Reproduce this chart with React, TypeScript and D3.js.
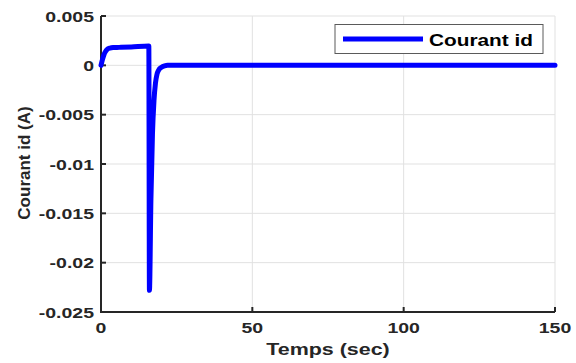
import React, { useRef, useEffect } from 'react';
import * as d3 from 'd3';

// Courant id vs temps.
const timeSec = [0, 0.5, 1, 1.5, 2, 3, 4, 6, 10, 15.8, 16.0, 16.5, 17, 17.5, 18, 18.5, 19, 20, 21, 22, 150];
const courantId = [
  0, 0.0006, 0.0011, 0.0014, 0.0016, 0.00175, 0.0018, 0.00182, 0.00187, 0.00197,
  -0.0228, -0.0135, -0.007, -0.0036, -0.0018, -0.0009, -0.0005, -0.0002, -0.00006, 0, 0,
];
const xTicks = [0, 50, 100, 150];
const yTicks = [0.005, 0, -0.005, -0.01, -0.015, -0.02, -0.025];
const yTickLabels = ['0.005', '0', '-0.005', '-0.01', '-0.015', '-0.02', '-0.025'];
const seriesName = 'Courant id';

const W = 576;
const H = 363;
const FONT = '"Liberation Sans", Arial, sans-serif';
const STRETCH = 1.3; // the reference's text is drawn wider than normal

export default function App() {
  const svgRef = useRef<SVGSVGElement>(null);

  useEffect(() => {
    const svg = d3.select(svgRef.current);
    svg.selectAll('*').remove();

    const left = 101, right = 555, top = 16, bottom = 312;
    const x = d3.scaleLinear().domain([0, 150]).range([left, right]);
    const y = d3.scaleLinear().domain([-0.025, 0.005]).range([bottom, top]);

    svg.append('rect').attr('width', W).attr('height', H).attr('fill', 'white');

    // grid
    for (const t of xTicks) {
      if (t === 0) continue;
      svg.append('line').attr('x1', x(t)).attr('x2', x(t)).attr('y1', top).attr('y2', bottom)
        .attr('stroke', '#e1e1e1').attr('stroke-width', 1);
    }
    for (const t of yTicks) {
      if (t === -0.025) continue;
      svg.append('line').attr('x1', left).attr('x2', right).attr('y1', y(t)).attr('y2', y(t))
        .attr('stroke', '#e1e1e1').attr('stroke-width', 1);
    }

    // axes (left + bottom only), ticks pointing inward
    const axisColor = '#262626';
    svg.append('line').attr('x1', left).attr('x2', left).attr('y1', top).attr('y2', bottom + 1)
      .attr('stroke', axisColor).attr('stroke-width', 2);
    svg.append('line').attr('x1', left - 1).attr('x2', right).attr('y1', bottom).attr('y2', bottom)
      .attr('stroke', axisColor).attr('stroke-width', 2);
    for (const t of yTicks) {
      svg.append('line').attr('x1', left).attr('x2', left + 5).attr('y1', y(t)).attr('y2', y(t))
        .attr('stroke', axisColor).attr('stroke-width', 2);
    }
    for (const t of xTicks) {
      svg.append('line').attr('x1', x(t)).attr('x2', x(t)).attr('y1', bottom).attr('y2', bottom - 5)
        .attr('stroke', axisColor).attr('stroke-width', 2);
    }

    // tick labels
    yTicks.forEach((t, i) => {
      svg.append('text')
        .attr('transform', `translate(${left - 7},${y(t) + 5.5}) scale(${STRETCH},1)`)
        .attr('text-anchor', 'end').attr('font-family', FONT).attr('font-weight', 'bold')
        .attr('font-size', 15).attr('fill', axisColor).text(yTickLabels[i]);
    });
    for (const t of xTicks) {
      svg.append('text')
        .attr('transform', `translate(${x(t)},${bottom + 21}) scale(${STRETCH},1)`)
        .attr('text-anchor', 'middle').attr('font-family', FONT).attr('font-weight', 'bold')
        .attr('font-size', 15).attr('fill', axisColor).text(String(t));
    }

    // axis titles
    svg.append('text')
      .attr('transform', `translate(${(left + right) / 2},${bottom + 43}) scale(${STRETCH},1)`)
      .attr('text-anchor', 'middle').attr('font-family', FONT).attr('font-weight', 'bold')
      .attr('font-size', 16.5).attr('fill', axisColor).text('Temps (sec)');
    svg.append('text')
      .attr('transform', `translate(30,163) rotate(-90)`)
      .attr('text-anchor', 'middle').attr('font-family', FONT).attr('font-weight', 'bold')
      .attr('font-size', 17).attr('fill', axisColor).text('Courant id (A)');

    // series
    const pts = timeSec.map((t, i) => [t, courantId[i]] as [number, number]);
    const line = d3.line<[number, number]>()
      .x((d) => x(d[0]))
      .y((d) => y(d[1]))
      .curve(d3.curveMonotoneX);
    svg.append('path').datum(pts).attr('d', line)
      .attr('fill', 'none').attr('stroke', '#0000ff').attr('stroke-width', 5)
      .attr('stroke-linejoin', 'round').attr('stroke-linecap', 'round');

    // legend
    svg.append('rect').attr('x', 335).attr('y', 24.5).attr('width', 208).attr('height', 29)
      .attr('fill', 'white').attr('stroke', '#5a5a5a').attr('stroke-width', 1);
    svg.append('line').attr('x1', 343).attr('x2', 423).attr('y1', 39).attr('y2', 39)
      .attr('stroke', '#0000ff').attr('stroke-width', 5);
    svg.append('text')
      .attr('transform', `translate(429,45.5) scale(${STRETCH},1)`)
      .attr('font-family', FONT).attr('font-weight', 'bold')
      .attr('font-size', 16).attr('fill', '#000').text(seriesName);
  }, []);

  return (
    <svg ref={svgRef} width={W} height={H}
      style={{ position: 'absolute', left: 0, top: 0, display: 'block' }} />
  );
}
